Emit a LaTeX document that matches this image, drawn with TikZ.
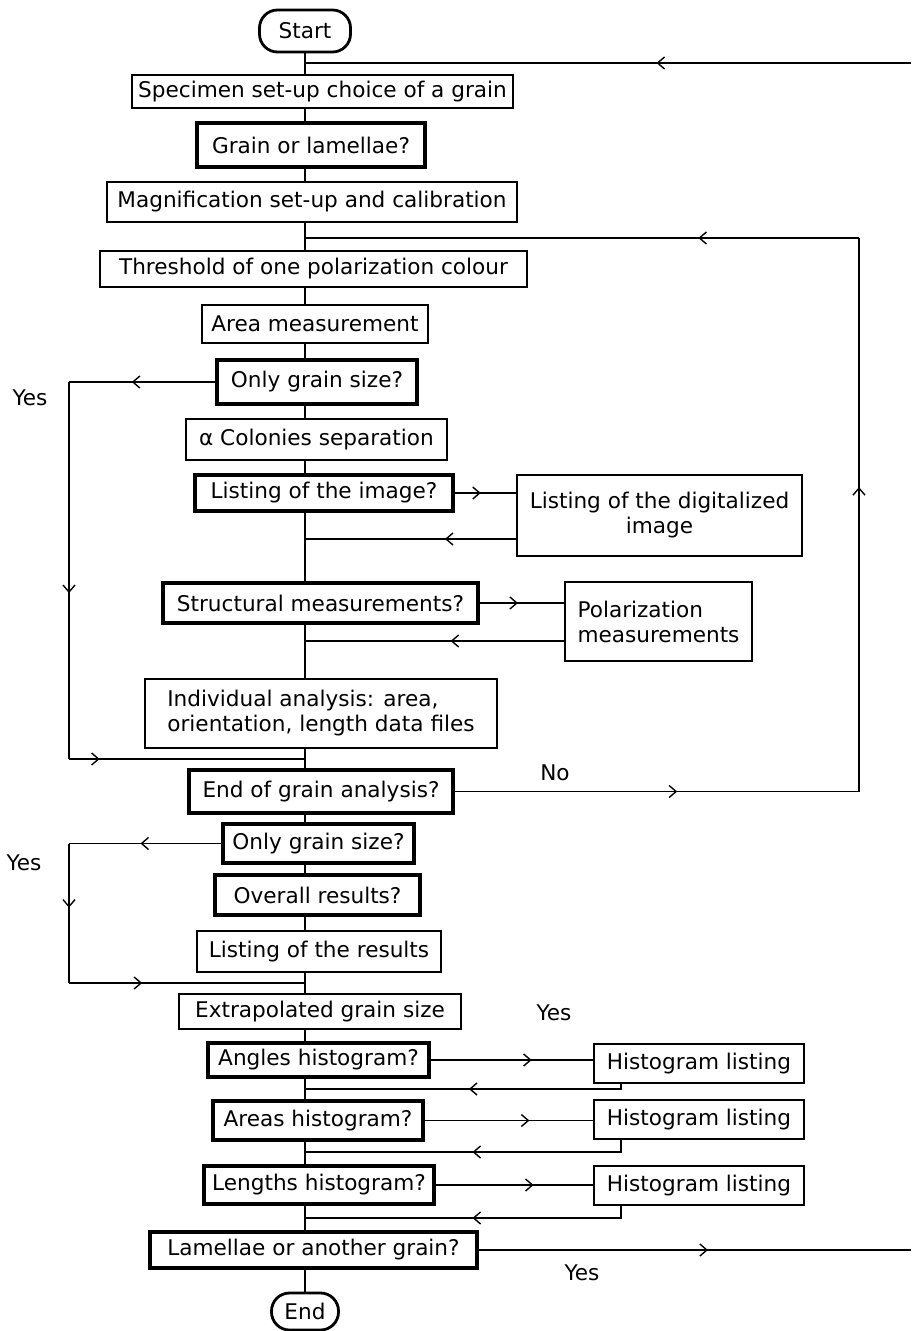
\documentclass[tikz,border=0pt]{standalone}
\usepackage{fontspec}
\setmainfont{DejaVu Sans}
\usetikzlibrary{arrows.meta, decorations.markings, calc}
\tikzset{
  box/.style={draw, line width=0.6pt, fill=white, inner xsep=1pt, inner ysep=1pt},
  ask/.style={box, line width=2pt},
  term/.style={box, line width=1.4pt, rounded corners=9pt},
  flow/.style={line width=0.7pt},
  midarr/.style={postaction={decorate, decoration={markings, mark=at position #1 with {\arrow{Straight Barb[length=3.5pt, width=6pt]}}}}},
  midarr/.default=0.5
}

\begin{document}
\begin{tikzpicture}[x=0.5pt, y=-0.5pt, font=\fontsize{10.8}{12.5}\selectfont]
    \useasboundingbox (0,0) rectangle (911,1331);
    % main column
    \node[term, minimum width=45.5pt, minimum height=21pt] (start) at (305,31) {Start};
    \node[box, minimum width=190.5pt, minimum height=16.5pt] (spec) at (322.5,91.5) {Specimen set-up choice of a grain};
    \node[ask, minimum width=114pt, minimum height=22pt] (grain) at (311,145) {Grain or lamellae?};
    \node[box, minimum width=205pt, minimum height=20pt] (magn) at (312,202) {Magnification set-up and calibration};
    \node[box, minimum width=213.5pt, minimum height=18pt] (thresh) at (313.5,269) {Threshold of one polarization colour};
    \node[box, minimum width=113pt, minimum height=19pt] (area) at (315,324) {Area measurement};
    \node[ask, minimum width=100pt, minimum height=22pt] (only1) at (317,382) {Only grain size?};
    \node[box, minimum width=130.5pt, minimum height=20.5pt] (alpha) at (316.5,439.5) {α Colonies separation};
    \node[ask, minimum width=129pt, minimum height=18pt] (listimg) at (324,493) {Listing of the image?};
    \node[ask, minimum width=157.5pt, minimum height=20pt] (struct) at (320.5,603) {Structural measurements?};
    \node[box, minimum width=176pt, minimum height=34.5pt, align=left] (indiv) at (321,713.5) {Individual analysis: area,\\orientation, length data files};
    \node[ask, minimum width=132pt, minimum height=21.5pt] (endgrain) at (321,791.5) {End of grain analysis?};
    \node[ask, minimum width=95.5pt, minimum height=19.5pt] (only2) at (318.5,843.5) {Only grain size?};
    \node[ask, minimum width=102.5pt, minimum height=20pt] (overall) at (317.5,895) {Overall results?};
    \node[box, minimum width=122pt, minimum height=20.5pt] (listres) at (319,951.5) {Listing of the results};
    \node[box, minimum width=141pt, minimum height=17.5pt] (extrap) at (320,1011.5) {Extrapolated grain size};
    \node[ask, minimum width=110.5pt, minimum height=17pt] (angles) at (318.5,1060) {Angles histogram?};
    \node[ask, minimum width=105pt, minimum height=19.5pt] (areas) at (318,1120.5) {Areas histogram?};
    \node[ask, minimum width=115pt, minimum height=19pt] (lengths) at (319,1185) {Lengths histogram?};
    \node[ask, minimum width=163.5pt, minimum height=18pt] (lamellae) at (313.5,1250) {Lamellae or another grain?};
    \node[term, minimum width=33.5pt, minimum height=18.5pt] (stop) at (305,1311.5) {End};
    % side boxes
    \node[box, minimum width=142.5pt, minimum height=40.5pt, align=center] (digit) at (659.5,515.5) {Listing of the digitalized\\image};
    \node[box, minimum width=93.5pt, minimum height=39.5pt, align=left] (polar) at (658.5,621.5) {Polarization\\measurements};
    \node[box, minimum width=105pt, minimum height=19.5pt] (hist1) at (699,1063.5) {Histogram listing};
    \node[box, minimum width=105pt, minimum height=19.5pt] (hist2) at (699,1119.5) {Histogram listing};
    \node[box, minimum width=105pt, minimum height=19.5pt] (hist3) at (699,1185.5) {Histogram listing};
    % answers
    \node (yes1) at (30,398) {Yes};
    \node (yes2) at (24,863) {Yes};
    \node (no) at (555,773) {No};
    \node (yes3) at (554,1013) {Yes};
    \node (yes4) at (582,1273) {Yes};

    \foreach \a/\b in {start/spec, spec/grain, grain/magn, magn/thresh, thresh/area, area/only1, only1/alpha, alpha/listimg, listimg/struct, struct/indiv, indiv/endgrain, endgrain/only2, only2/overall, overall/listres, listres/extrap, extrap/angles, angles/areas, areas/lengths, lengths/lamellae, lamellae/stop}
        \draw[flow] (\a.south -| start) -- (\b.north -| start);

    % loops back to the top
    \coordinate (topin) at (911,63);
    \draw[flow, midarr=0.42] (topin) -- (topin -| start);
    \coordinate (loopc) at (859,238);
    \draw[flow, midarr=0.55] (endgrain.east) -- (endgrain.east -| loopc);
    \draw[flow, midarr=0.55] (endgrain.east -| loopc) -- (loopc);
    \draw[flow, midarr=0.29] (loopc) -- (loopc -| start);
    \coordinate (botout) at (911,1250);
    \draw[flow, midarr=0.53] (lamellae.east) -- (lamellae.east -| botout);

    % by-passes on the left
    \coordinate (yes1c) at (69,759);
    \draw[flow, midarr=0.57] (only1.west) -- (only1.west -| yes1c);
    \draw[flow, midarr=0.56] (only1.west -| yes1c) -- (yes1c);
    \draw[flow, midarr=0.13] (yes1c) -- (yes1c -| start);
    \coordinate (yes2c) at (69,983);
    \draw[flow, midarr=0.53] (only2.west) -- (only2.west -| yes2c);
    \draw[flow, midarr=0.46] (only2.west -| yes2c) -- (yes2c);
    \draw[flow, midarr=0.31] (yes2c) -- (yes2c -| start);

    % side branches
    \draw[flow, midarr=0.42] (listimg.east) -- (listimg.east -| digit.west);
    \coordinate (back1) at (517,539);
    \draw[flow, midarr=0.34] (back1) -- (back1 -| start);
    \draw[flow, midarr=0.45] (struct.east) -- (struct.east -| polar.west);
    \coordinate (back2) at (565,641);
    \draw[flow, midarr=0.44] (back2) -- (back2 -| start);
    \foreach \q/\h/\y in {angles/hist1/1089, areas/hist2/1152, lengths/hist3/1218} {
        \draw[flow, midarr=0.62] (\q.east) -- (\q.east -| \h.west);
        \coordinate (back) at (621,\y);
        \draw[flow, midarr=0.49] (\h.south -| back) -- (back) -- (back -| start);
    }
\end{tikzpicture}
\end{document}
